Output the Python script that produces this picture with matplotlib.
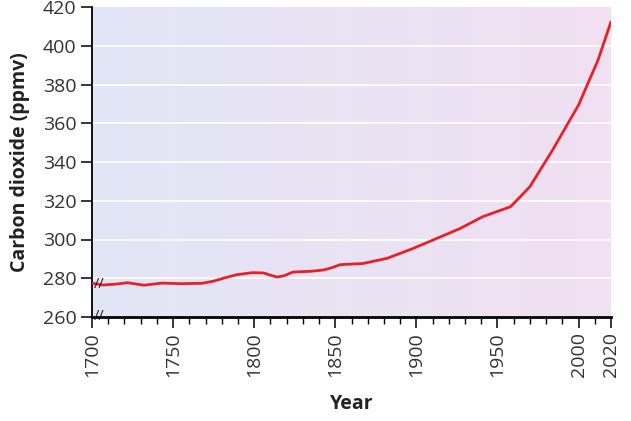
import numpy as np
import matplotlib.pyplot as plt
from matplotlib.colors import LinearSegmentedColormap
from matplotlib.ticker import MultipleLocator

# CO2 record
years = [1700, 1707, 1715, 1722, 1732, 1743, 1755, 1768, 1775, 1781,
         1789, 1799, 1806, 1810, 1814, 1818, 1824, 1835, 1843, 1848,
         1853, 1867, 1882, 1898, 1915, 1927, 1941, 1958, 1964, 1970,
         1984, 2000, 2012, 2020]
co2 = [277.4, 276.5, 277.0, 277.7, 276.4, 277.5, 277.2, 277.4, 278.5, 280.0,
       281.8, 282.9, 282.7, 281.6, 280.6, 281.2, 283.2, 283.6, 284.3, 285.5,
       287.0, 287.6, 290.3, 295.4, 301.4, 305.7, 311.8, 316.9, 322.0, 327.3,
       346.2, 369.4, 392.6, 412.4]

xticks = [1700, 1750, 1800, 1850, 1900, 1950, 2000, 2020]
yticks = list(range(260, 421, 20))

plt.rcParams['font.family'] = ['Open Sans', 'DejaVu Sans']

fig = plt.figure(figsize=(6.31, 4.21), dpi=100)
ax = fig.add_axes([92 / 631, 1 - 317 / 421, 519 / 631, 310 / 421])

# gradient background
cmap = LinearSegmentedColormap.from_list('bg', ['#e2e6f6', '#f1e0f1'])
grad = np.linspace(0, 1, 256).reshape(1, -1)
ax.imshow(grad, cmap=cmap, extent=[1700, 2020, 260, 420], aspect='auto', zorder=0)

for y in yticks[1:-1]:
    ax.axhline(y, color='white', lw=1.2, zorder=1)

ax.plot(years, co2, color='#e8202a', lw=2, zorder=3,
        solid_capstyle='round', solid_joinstyle='round')

ax.set_xlim(1700, 2020)
ax.set_ylim(260, 420)
ax.set_xticks(xticks)
ax.set_xticklabels([str(t) for t in xticks], rotation=90)
ax.xaxis.set_minor_locator(MultipleLocator(10))
ax.set_yticks(yticks)

for s in ['top', 'right']:
    ax.spines[s].set_visible(False)
ax.spines['left'].set_linewidth(1.3)
ax.spines['bottom'].set_linewidth(2)

ax.tick_params(axis='both', which='major', labelsize=14, colors='black',
               labelcolor='#333333', length=8, width=1.1, pad=3)
ax.tick_params(axis='x', which='minor', length=5, width=1.0)

ax.set_ylabel('Carbon dioxide (ppmv)', fontsize=14, fontweight='bold',
              color='#222222', labelpad=9)
ax.set_xlabel('Year', fontsize=14, fontweight='bold', color='#222222', labelpad=12)

# axis break marks
for yv in [277, 260]:
    ax.text(1704.5, yv, '//', fontsize=10.5, ha='center', va='center', color='#222222',
            zorder=5, clip_on=False)

fig.savefig('out.png', dpi=100)
